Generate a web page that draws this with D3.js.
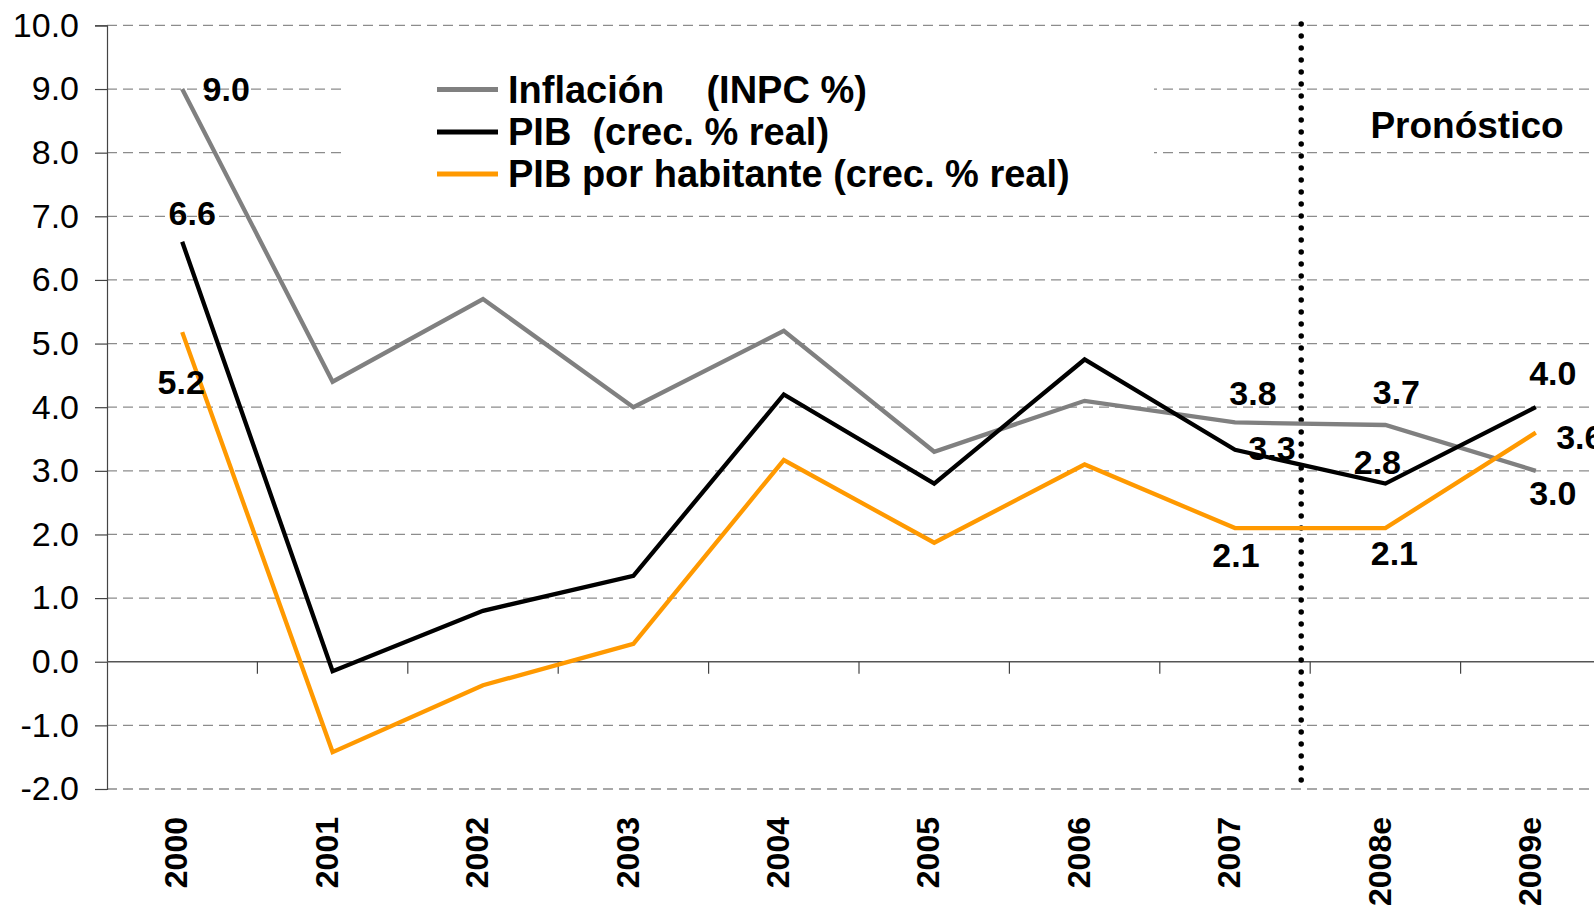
<!DOCTYPE html>
<html>
<head>
<meta charset="utf-8">
<script src="https://cdn.jsdelivr.net/npm/d3@7"></script>
<style>
body { margin: 0; background: #fff; }
text { font-family: "Liberation Sans", Arial, sans-serif; }
</style>
</head>
<body>
<div id="chart"></div>
<script>
// categories and series
var years = ["2000", "2001", "2002", "2003", "2004", "2005", "2006", "2007", "2008e", "2009e"];
var inflacion = [9.0, 4.4, 5.7, 4.0, 5.2, 3.3, 4.1, 3.76, 3.72, 3.0];
var pib = [6.6, -0.15, 0.8, 1.35, 4.2, 2.8, 4.75, 3.33, 2.8, 4.0];
var pibHab = [5.18, -1.42, -0.37, 0.28, 3.17, 1.87, 3.1, 2.1, 2.1, 3.6];
var yTicks = [-2, -1, 0, 1, 2, 3, 4, 5, 6, 7, 8, 9, 10];
var legendNames = ["Inflación    (INPC %)", "PIB  (crec. % real)", "PIB por habitante (crec. % real)"];

// which points carry a value label, and where it sits relative to the point
var labelOffsets = [
	{s: 0, i: 0, dx: 44, dy: 0},
	{s: 1, i: 0, dx: 10, dy: -29},
	{s: 2, i: 0, dx: -1, dy: 50},
	{s: 0, i: 7, dx: 18, dy: -29},
	{s: 1, i: 7, dx: 37, dy: -2},
	{s: 2, i: 7, dx: 1, dy: 27},
	{s: 0, i: 8, dx: 11, dy: -33},
	{s: 1, i: 8, dx: -8, dy: -21},
	{s: 2, i: 8, dx: 9, dy: 25},
	{s: 1, i: 9, dx: 17, dy: -34},
	{s: 2, i: 9, dx: 44, dy: 4},
	{s: 0, i: 9, dx: 17, dy: 22}
];

var series = [inflacion, pib, pibHab];
var colors = ["#808080", "#000000", "#FF9900"];

var W = 1594, H = 911;
var plotLeft = 107, plotTop = 25.4, plotBottom = 789, plotRight = 107 + 150.4 * 10;

var svg = d3.select("#chart").append("svg")
	.attr("width", W)
	.attr("height", H);

var x = d3.scaleBand().domain(years).range([plotLeft, plotRight]);
var y = d3.scaleLinear().domain([-2, 10]).range([plotBottom, plotTop]);
var cx = function(d) { return x(d) + x.bandwidth() / 2; };

// dashed gridlines
svg.append("g")
	.selectAll("line")
	.data(yTicks.filter(function(d) { return d !== 0; }))
	.enter().append("line")
	.attr("x1", plotLeft).attr("x2", W)
	.attr("y1", function(d) { return y(d); })
	.attr("y2", function(d) { return y(d); })
	.attr("stroke", "#8c8c8c")
	.attr("stroke-width", 1.3)
	.attr("stroke-dasharray", "10,6");

// y axis
var yAxis = d3.axisLeft(y).tickValues(yTicks).tickSize(12).tickPadding(16);
var gy = svg.append("g")
	.attr("transform", "translate(" + plotLeft + ",0)")
	.call(yAxis);
gy.select(".domain").attr("stroke", "#444").attr("stroke-width", 1.2);
gy.selectAll(".tick line").attr("stroke", "#444").attr("stroke-width", 1.2);
gy.selectAll(".tick text")
	.attr("font-family", "Liberation Sans, Arial, sans-serif")
	.attr("font-size", 34)
	.attr("fill", "#000")
	.text(function(d) { return d < 0 ? "-" + d3.format(".1f")(-d) : d3.format(".1f")(d); });

// zero line with tick marks between categories
svg.append("line")
	.attr("x1", plotLeft).attr("x2", W)
	.attr("y1", y(0)).attr("y2", y(0))
	.attr("stroke", "#555").attr("stroke-width", 1.6);
svg.append("g")
	.selectAll("line")
	.data(years)
	.enter().append("line")
	.attr("x1", function(d) { return x(d) + x.bandwidth(); })
	.attr("x2", function(d) { return x(d) + x.bandwidth(); })
	.attr("y1", y(0)).attr("y2", y(0) + 12)
	.attr("stroke", "#444").attr("stroke-width", 1.2);

// x labels, rotated
svg.append("g")
	.selectAll("text")
	.data(years)
	.enter().append("text")
	.attr("transform", function(d) { return "translate(" + (cx(d) - 6) + "," + 817 + ") rotate(-90)"; })
	.attr("dy", "0.35em")
	.attr("text-anchor", "end")
	.attr("font-size", 32)
	.attr("font-weight", "bold")
	.text(function(d) { return d; });

// forecast divider
var divX = x("2008e") - 9;
svg.append("line")
	.attr("x1", divX).attr("x2", divX)
	.attr("y1", 24).attr("y2", 792)
	.attr("stroke", "#000")
	.attr("stroke-width", 5.5)
	.attr("stroke-linecap", "round")
	.attr("stroke-dasharray", "0,12");

svg.append("text")
	.attr("x", 1467).attr("y", 125)
	.attr("dy", "0.35em")
	.attr("text-anchor", "middle")
	.attr("font-size", 37)
	.attr("font-weight", "bold")
	.text("Pronóstico");

// legend (white box hides gridlines behind it)
svg.append("rect")
	.attr("x", 346).attr("y", 62)
	.attr("width", 808).attr("height", 136)
	.attr("fill", "#fff");
var leg = svg.append("g")
	.selectAll("g")
	.data(legendNames)
	.enter().append("g")
	.attr("transform", function(d, i) { return "translate(0," + [89.5, 132, 174][i] + ")"; });
leg.append("line")
	.attr("x1", 437).attr("x2", 498)
	.attr("stroke", function(d, i) { return colors[i]; })
	.attr("stroke-width", 5);
leg.append("text")
	.attr("x", 508)
	.attr("dy", "0.35em")
	.attr("font-size", 38)
	.attr("font-weight", "bold")
	.style("white-space", "pre")
	.text(function(d) { return d; });

// series lines
var line = d3.line()
	.x(function(d, i) { return cx(years[i]); })
	.y(function(d) { return y(d); });

svg.append("g")
	.selectAll("path")
	.data(series)
	.enter().append("path")
	.attr("d", line)
	.attr("fill", "none")
	.attr("stroke", function(d, i) { return colors[i]; })
	.attr("stroke-width", 4.3)
	.attr("stroke-linejoin", "miter");

// value labels
svg.append("g")
	.selectAll("text")
	.data(labelOffsets)
	.enter().append("text")
	.attr("x", function(d) { return cx(years[d.i]) + d.dx; })
	.attr("y", function(d) { return y(series[d.s][d.i]) + d.dy; })
	.attr("dy", "0.35em")
	.attr("text-anchor", "middle")
	.attr("font-size", 34)
	.attr("font-weight", "bold")
	.text(function(d) { return d3.format(".1f")(series[d.s][d.i]); });
</script>
</body>
</html>
